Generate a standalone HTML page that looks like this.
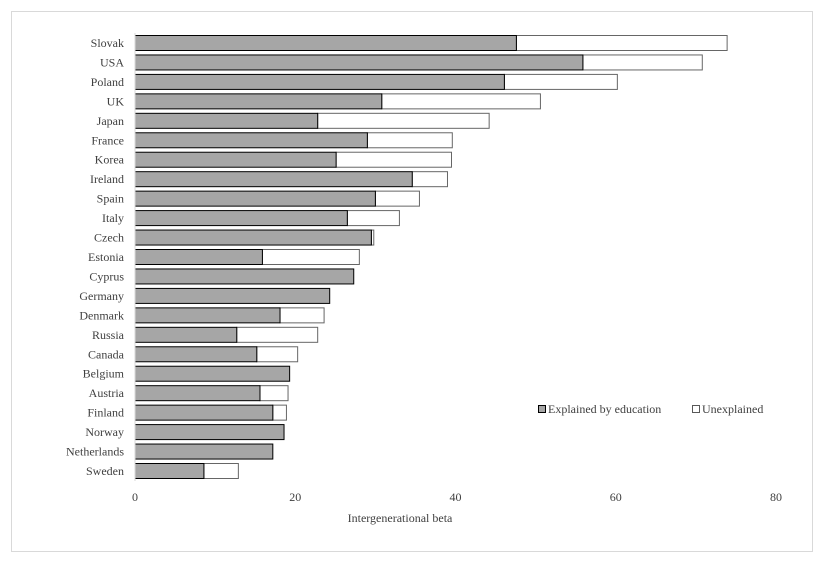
<!DOCTYPE html>
<html><head><meta charset="utf-8"><style>
html,body{margin:0;padding:0;background:#fff;}
svg{display:block;font-family:"Liberation Serif",serif;}
</style></head><body>
<svg id="chart" width="828" height="566">
<rect x="11.5" y="11.5" width="801" height="540" fill="#fff" stroke="#d9d9d9"/>
<g id="bars"></g>
<line x1="135" y1="33" x2="135" y2="481" stroke="#d9d9d9"/>
<g id="ticks"></g>
<text x="400" y="522" font-size="12" text-anchor="middle" fill="#404040">Intergenerational beta</text>
<g>
<g><rect x="538.5" y="405.5" width="7" height="7" fill="#a6a6a6" stroke="#000"/>
<text x="548" y="413" font-size="12" fill="#404040">Explained by education</text></g>
<g><rect x="692.5" y="405.5" width="7" height="7" fill="#fff" stroke="#595959"/>
<text x="702" y="413" font-size="12" fill="#404040">Unexplained</text></g>
</g>
</svg>
<script>
const categories=["Slovak","USA","Poland","UK","Japan","France","Korea","Ireland","Spain","Italy","Czech","Estonia","Cyprus","Germany","Denmark","Russia","Canada","Belgium","Austria","Finland","Norway","Netherlands","Sweden"];
const explained=[47.6,55.9,46.1,30.8,22.8,29.0,25.1,34.6,30.0,26.5,29.5,15.9,27.3,24.3,18.1,12.7,15.2,19.3,15.6,17.2,18.6,17.2,8.6];
const totals=[73.9,70.8,60.2,50.6,44.2,39.6,39.5,39.0,35.5,33.0,29.8,28.0,27.3,24.3,23.6,22.8,20.3,19.3,19.1,18.9,18.6,17.2,12.9];
const tickValues=[0,20,40,60,80];
const NS="http://www.w3.org/2000/svg";
const x=v=>135+v*(776-135)/80;
const y=i=>43+i*(471-43)/22;
const bars=document.getElementById('bars');
categories.forEach((c,i)=>{
  const cy=y(i);
  const t=document.createElementNS(NS,'text');
  t.setAttribute('x',124);t.setAttribute('y',cy+4);t.setAttribute('text-anchor','end');
  t.setAttribute('font-size','12');t.setAttribute('fill','#404040');t.textContent=c;
  
  
  bars.appendChild(t);
  const u=totals[i]-explained[i];
  if(u>0.05){
    const r2=document.createElementNS(NS,'rect');
    r2.setAttribute('x',x(explained[i]));r2.setAttribute('y',cy-7.5);
    r2.setAttribute('width',x(totals[i])-x(explained[i]));r2.setAttribute('height',15);
    r2.setAttribute('fill','#fff');r2.setAttribute('stroke','#666');
    
    
    bars.appendChild(r2);
  }
  const r=document.createElementNS(NS,'rect');
  r.setAttribute('x',x(0));r.setAttribute('y',cy-7.5);
  r.setAttribute('width',x(explained[i])-x(0));r.setAttribute('height',15);
  r.setAttribute('fill','#a6a6a6');r.setAttribute('stroke','#000');
  
  
  bars.appendChild(r);
});
const ticks=document.getElementById('ticks');
tickValues.forEach(v=>{
  const t=document.createElementNS(NS,'text');
  t.setAttribute('x',x(v));t.setAttribute('y',501);t.setAttribute('text-anchor','middle');
  t.setAttribute('font-size','12');t.setAttribute('fill','#404040');t.textContent=v;
  
  
  ticks.appendChild(t);
});
</script>
</body></html>
